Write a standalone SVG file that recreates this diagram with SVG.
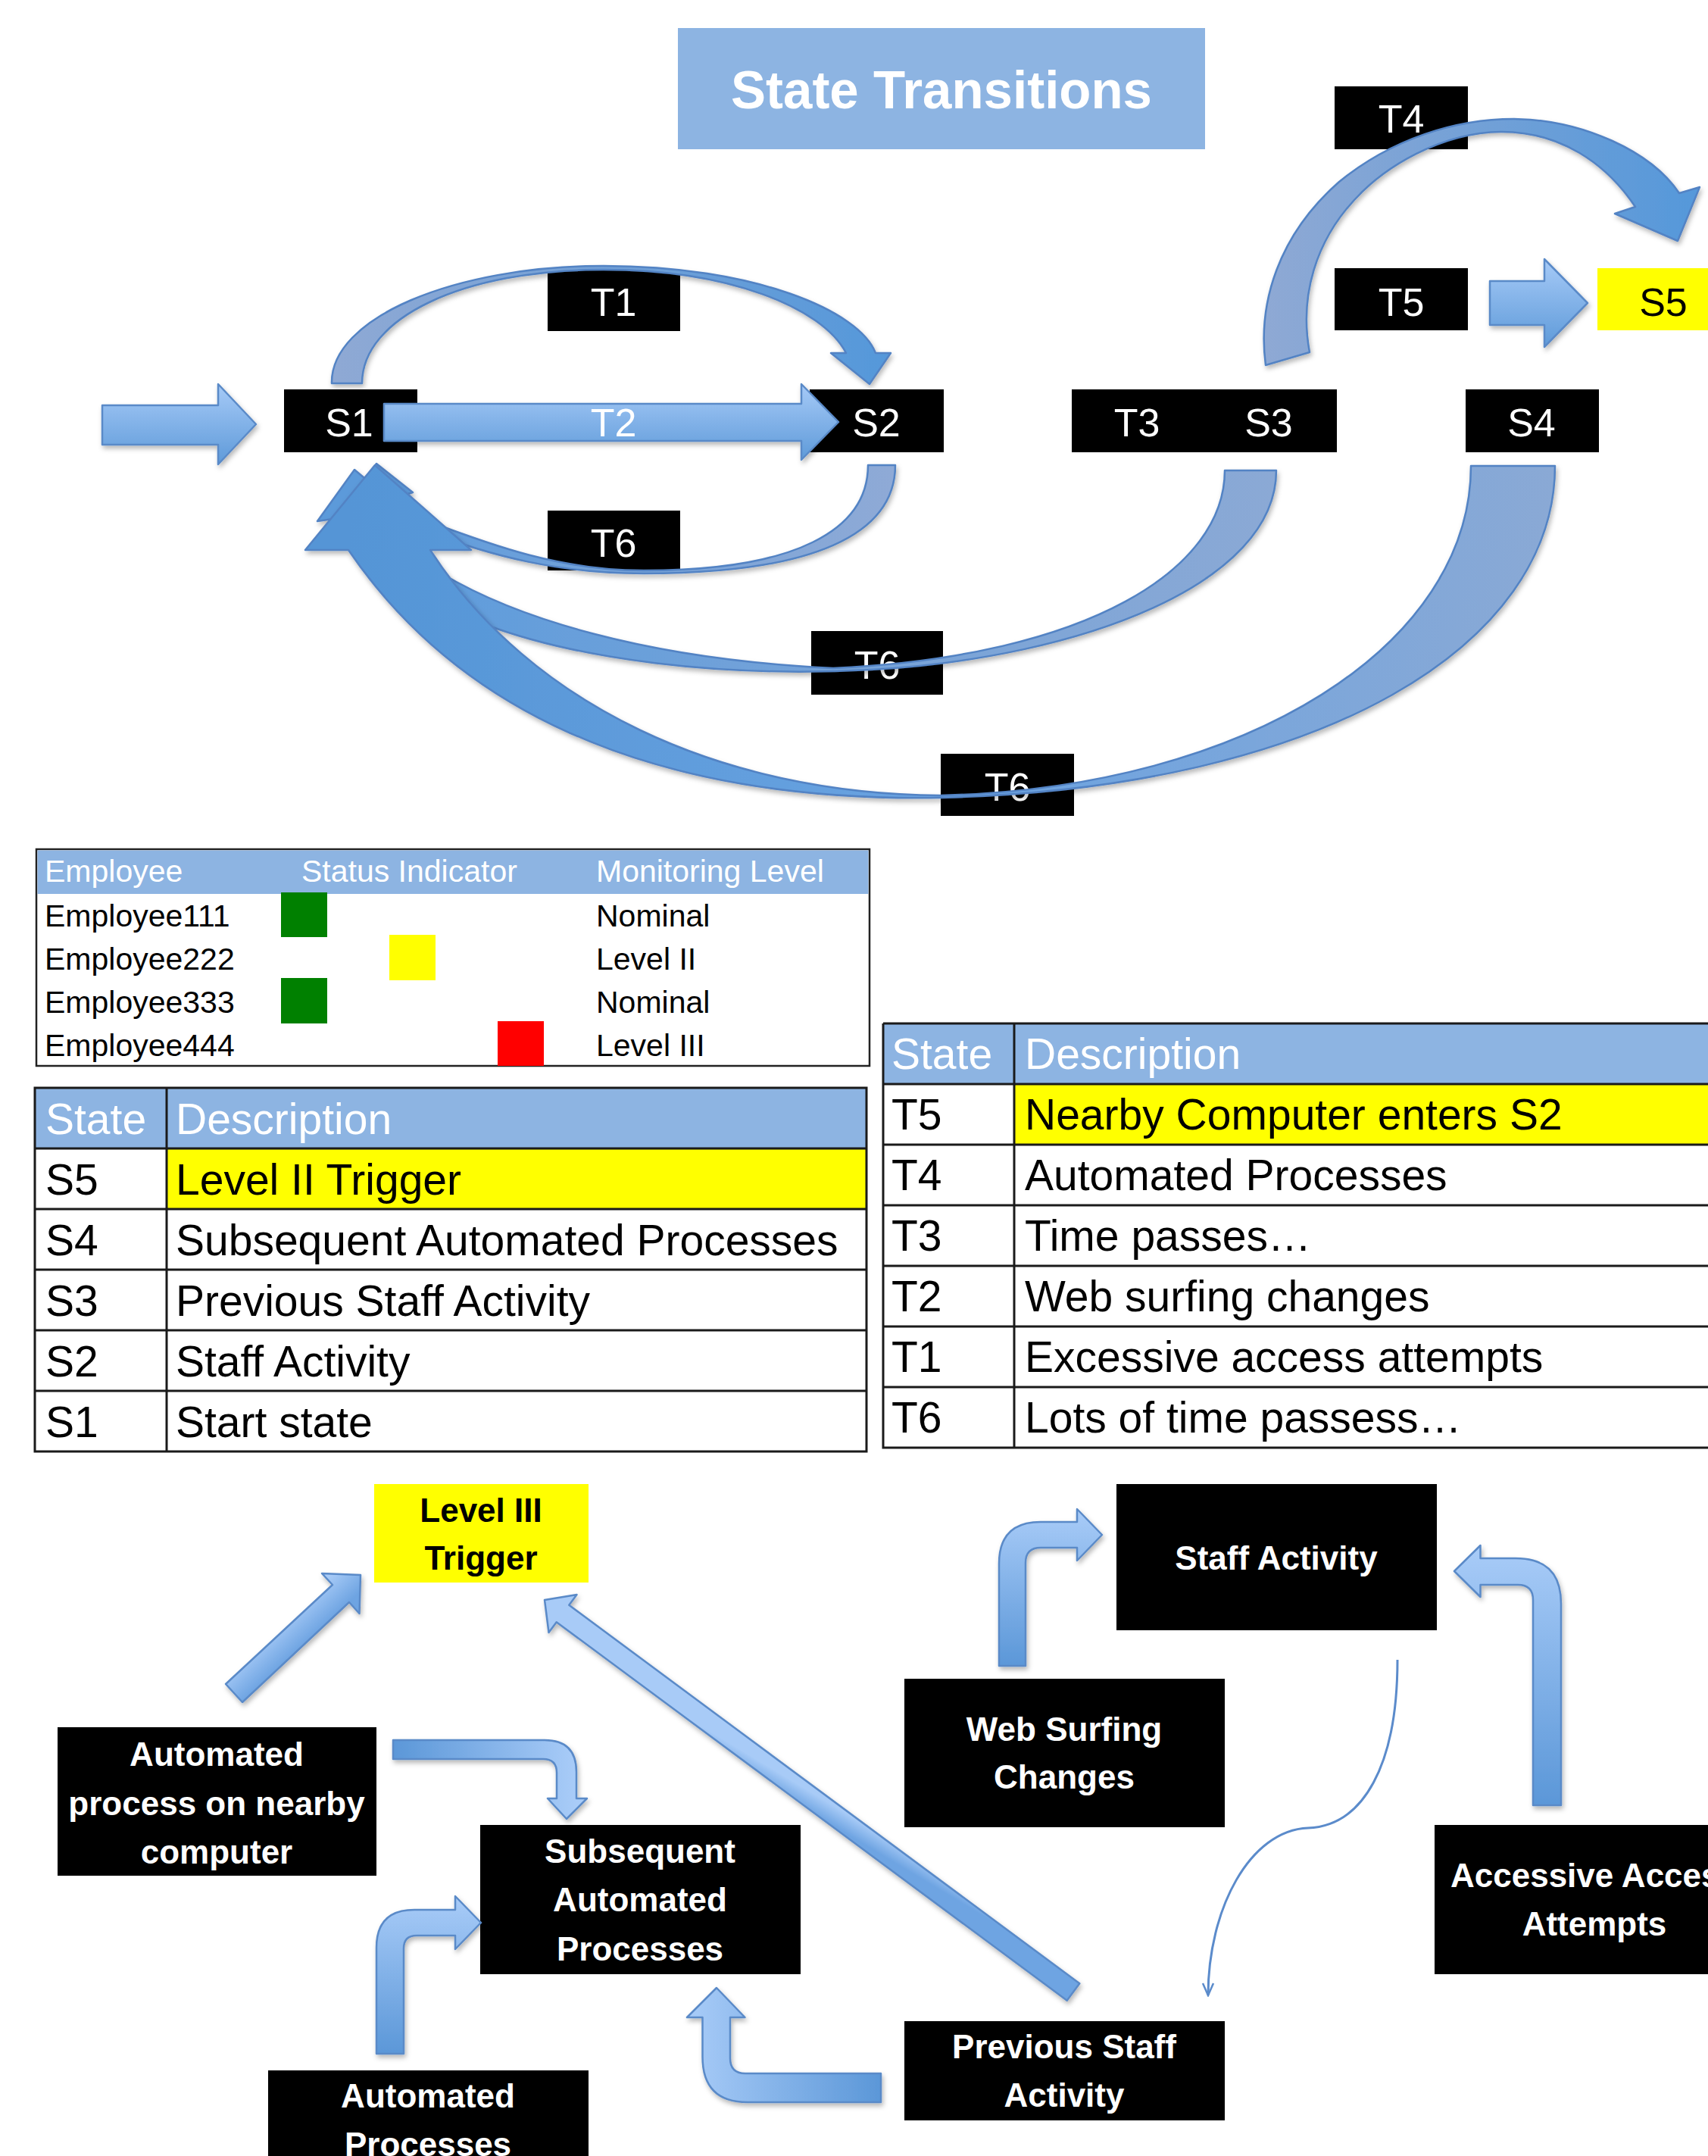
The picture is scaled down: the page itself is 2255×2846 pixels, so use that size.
<svg xmlns="http://www.w3.org/2000/svg" width="2255" height="2846" viewBox="0 0 2255 2846">
<defs>
<style>
.lbl{font-family:"Liberation Sans",Arial,sans-serif;font-size:52px;fill:#fff;text-anchor:middle}
.nb{font-family:"Liberation Sans",Arial,sans-serif;font-size:44px;font-weight:bold;fill:#fff;text-anchor:middle}
.et{font-family:"Liberation Sans",Arial,sans-serif;font-size:41px;fill:#000}
.tt{font-family:"Liberation Sans",Arial,sans-serif;font-size:57px;fill:#000}
.wh{fill:#fff}
.hd{fill:#8DB4E2}
.grid{stroke:#1a1a1a;stroke-width:3;fill:none}
.blk{stroke:#5A8AC8;stroke-width:2.5;stroke-linejoin:round}
.arc{stroke:#5283C4;stroke-width:2.5;stroke-linejoin:round}
</style>
<linearGradient id="gV" x1="0" y1="0" x2="0" y2="1"><stop offset="0" stop-color="#A6CAF7"/><stop offset="1" stop-color="#5E9AD9"/></linearGradient>
<linearGradient id="gT1" gradientUnits="userSpaceOnUse" x1="438" y1="0" x2="1176" y2="0"><stop offset="0" stop-color="#8FA9D4"/><stop offset="1" stop-color="#5598DA"/></linearGradient>
<linearGradient id="gT4" gradientUnits="userSpaceOnUse" x1="1665" y1="0" x2="2244" y2="0"><stop offset="0" stop-color="#8FA9D4"/><stop offset="1" stop-color="#5598DA"/></linearGradient>
<linearGradient id="gS2" gradientUnits="userSpaceOnUse" x1="1182" y1="0" x2="520" y2="0"><stop offset="0" stop-color="#8FAAD6"/><stop offset="1" stop-color="#5E9CDC"/></linearGradient>
<linearGradient id="gS3" gradientUnits="userSpaceOnUse" x1="1685" y1="0" x2="520" y2="0"><stop offset="0" stop-color="#8BA9D5"/><stop offset="1" stop-color="#5E9CDC"/></linearGradient>
<linearGradient id="gS4" gradientUnits="userSpaceOnUse" x1="2053" y1="0" x2="460" y2="0"><stop offset="0" stop-color="#8AA9D5"/><stop offset="0.5" stop-color="#6AA3E1"/><stop offset="1" stop-color="#5495D6"/></linearGradient>
<linearGradient id="gA" gradientUnits="userSpaceOnUse" x1="370" y1="2140" x2="400" y2="2172"><stop offset="0" stop-color="#A8CBF7"/><stop offset="1" stop-color="#6EA4E2"/></linearGradient>
<linearGradient id="gB" gradientUnits="userSpaceOnUse" x1="1070" y1="2365" x2="1058" y2="2385"><stop offset="0" stop-color="#A8CBF7"/><stop offset="1" stop-color="#6EA4E2"/></linearGradient>
<linearGradient id="gC" gradientUnits="userSpaceOnUse" x1="519" y1="0" x2="761" y2="0"><stop offset="0" stop-color="#5B97D8"/><stop offset="1" stop-color="#A9CCF8"/></linearGradient>
<linearGradient id="gD" gradientUnits="userSpaceOnUse" x1="0" y1="2711" x2="0" y2="2503"><stop offset="0" stop-color="#5B97D8"/><stop offset="1" stop-color="#A9CCF8"/></linearGradient>
<linearGradient id="gE" gradientUnits="userSpaceOnUse" x1="1163" y1="0" x2="907" y2="0"><stop offset="0" stop-color="#5B97D8"/><stop offset="1" stop-color="#A9CCF8"/></linearGradient>
<linearGradient id="gF" gradientUnits="userSpaceOnUse" x1="0" y1="2199" x2="0" y2="1992"><stop offset="0" stop-color="#5B97D8"/><stop offset="1" stop-color="#A9CCF8"/></linearGradient>
<linearGradient id="gG" gradientUnits="userSpaceOnUse" x1="0" y1="2383" x2="0" y2="2040"><stop offset="0" stop-color="#5B97D8"/><stop offset="1" stop-color="#A9CCF8"/></linearGradient>
<filter id="sh" x="-10%" y="-10%" width="120%" height="130%"><feDropShadow dx="2" dy="4" stdDeviation="3" flood-color="#000" flood-opacity="0.28"/></filter>
<marker id="open" viewBox="0 0 20 20" refX="18" refY="10" markerWidth="20" markerHeight="20" markerUnits="userSpaceOnUse" orient="auto"><path d="M2,3 L18,10 L2,17" fill="none" stroke="#5B8BCB" stroke-width="2.5"/></marker>
</defs>
<rect width="2255" height="2846" fill="#fff"/>

<g id="title">
<rect x="895" y="37" width="696" height="160" fill="#8DB4E2"/>
<text x="1243" y="143" font-family="Liberation Sans, Arial, sans-serif" font-size="70" font-weight="bold" fill="#fff" text-anchor="middle" textLength="556" lengthAdjust="spacingAndGlyphs">State Transitions</text>
</g>

<g id="node-S1"><rect class="box" x="375" y="514" width="176" height="83"/><text class="lbl" x="461" y="576">S1</text></g>
<g id="node-S2"><rect class="box" x="1069" y="514" width="177" height="83"/><text class="lbl" x="1157" y="576">S2</text></g>
<g id="node-T3S3"><rect class="box" x="1415" y="514" width="350" height="83"/><text class="lbl" x="1501" y="576">T3</text><text class="lbl" x="1675" y="576">S3</text></g>
<g id="node-S4"><rect class="box" x="1935" y="514" width="176" height="83"/><text class="lbl" x="2022" y="576">S4</text></g>
<g id="node-S5"><rect x="2109" y="354" width="176" height="82" fill="#FFFF00"/><text class="lbl" x="2196" y="417" style="fill:#000">S5</text></g>
<g id="label-T1"><rect class="box" x="723" y="356" width="175" height="81"/><text class="lbl" x="810" y="417">T1</text></g>
<g id="label-T4"><rect class="box" x="1762" y="114" width="176" height="83"/><text class="lbl" x="1850" y="175">T4</text></g>
<g id="label-T5"><rect class="box" x="1762" y="354" width="176" height="82"/><text class="lbl" x="1850" y="417">T5</text></g>
<g id="label-T6a"><rect class="box" x="723" y="674" width="175" height="79"/><text class="lbl" x="810" y="735">T6</text></g>
<g id="label-T6b"><rect class="box" x="1071" y="833" width="174" height="84"/><text class="lbl" x="1158" y="896">T6</text></g>
<g id="label-T6c"><rect class="box" x="1242" y="995" width="176" height="82"/><text class="lbl" x="1330" y="1057">T6</text></g>

<g id="connectors-top">
<path filter="url(#sh)" class="blk" fill="url(#gV)" d="M135,535 L288,535 L288,507 L338,560 L288,613 L288,587 L135,587 Z"/>
<path filter="url(#sh)" class="blk" fill="url(#gV)" d="M507,533 L1058,533 L1058,507 L1107,557 L1058,607 L1058,582 L507,582 Z"/>
<text class="lbl" x="810" y="576">T2</text>
<path filter="url(#sh)" class="blk" fill="url(#gV)" d="M1967,371 L2039,371 L2039,342 L2096,400 L2039,458 L2039,429 L1967,429 Z"/>
<path filter="url(#sh)" class="arc" fill="url(#gT1)" d="M438,506 C436,420 599,351 797,351 C995,351 1135,410 1156,466 L1176,466 L1148,507 L1097,466 L1117,466 C1085,405 960,356 797,356 C610,356 478,420 478,506 Z"/>
<path filter="url(#sh)" class="arc" fill="url(#gT4)" d="M1671,482 C1660,400 1688,310 1768,240 C1838,183 1922,157 1999,157 C2090,158 2180,200 2217,255 L2244,247 L2215,318 L2132,282 L2159,273 C2120,215 2060,174 1982,174 C1902,175 1828,220 1788,264 C1738,318 1715,390 1729,465 Z"/>
<path filter="url(#sh)" class="arc" fill="#5C9ADA" d="M497,612 L545,650 L450,680 Z"/>
<path filter="url(#sh)" class="arc" fill="#5C9ADA" d="M468,620 L419,688 L530,672 Z"/>
<path filter="url(#sh)" class="arc" fill="url(#gS2)" d="M1146,614 L1182,614 C1182,705 1075,757 850,757 C740,757 650,735 560,700 L565,688 C650,720 740,753 850,753 C1050,753 1146,700 1146,614 Z"/>
<path filter="url(#sh)" class="arc" fill="url(#gS3)" d="M1617,621 L1685,621 C1685,770 1430,868 1150,884 C950,895 760,870 637,823 L505,715 L583,757 C680,815 850,870 1100,882 C1440,866 1617,750 1617,621 Z"/>
<path filter="url(#sh)" class="arc" fill="url(#gS4)" d="M2053,615 C2053,850 1750,1040 1242,1053 C950,1058 640,990 460,726 L403,726 L495,614 L622,726 L568,726 C700,930 950,1048 1242,1050 C1650,1040 1942,850 1942,615 Z"/>
</g>

<g id="employee-table">
<rect x="48" y="1121" width="1100" height="286" fill="#fff" stroke="#222" stroke-width="2.5"/>
<rect x="49.5" y="1122.5" width="1097" height="57.5" class="hd"/>
<text class="et wh" x="59" y="1164">Employee</text>
<text class="et wh" x="398" y="1164">Status Indicator</text>
<text class="et wh" x="787" y="1164">Monitoring Level</text>
<text class="et" x="59" y="1223">Employee111</text>
<text class="et" x="59" y="1280">Employee222</text>
<text class="et" x="59" y="1337">Employee333</text>
<text class="et" x="59" y="1394">Employee444</text>
<text class="et" x="787" y="1223">Nominal</text>
<text class="et" x="787" y="1280">Level II</text>
<text class="et" x="787" y="1337">Nominal</text>
<text class="et" x="787" y="1394">Level III</text>
<rect x="371" y="1178" width="61" height="59" fill="#008000"/>
<rect x="514" y="1234" width="61" height="60" fill="#FFFF00"/>
<rect x="371" y="1291" width="61" height="60" fill="#008000"/>
<rect x="657" y="1348" width="61" height="59" fill="#FF0000"/>
</g>

<g id="state-table">
<rect x="46" y="1436" width="1098" height="80" class="hd"/>
<rect x="220" y="1516" width="924" height="80" fill="#FFFF00"/>
<path class="grid" d="M46,1436 H1144 V1916 H46 Z M220,1436 V1916 M46,1516 H1144 M46,1596 H1144 M46,1676 H1144 M46,1756 H1144 M46,1836 H1144"/>
<text class="tt wh" x="60" y="1497">State</text><text class="tt wh" x="232" y="1497">Description</text>
<text class="tt" x="60" y="1577">S5</text><text class="tt" x="232" y="1577">Level II Trigger</text>
<text class="tt" x="60" y="1657">S4</text><text class="tt" x="232" y="1657">Subsequent Automated Processes</text>
<text class="tt" x="60" y="1737">S3</text><text class="tt" x="232" y="1737">Previous Staff Activity</text>
<text class="tt" x="60" y="1817">S2</text><text class="tt" x="232" y="1817">Staff Activity</text>
<text class="tt" x="60" y="1897">S1</text><text class="tt" x="232" y="1897">Start state</text>
</g>

<g id="transition-table">
<rect x="1166" y="1351" width="1134" height="80" class="hd"/>
<rect x="1339" y="1431" width="961" height="80" fill="#FFFF00"/>
<path class="grid" d="M1166,1351 H2300 M1166,1351 V1911 H2300 M1339,1351 V1911 M1166,1431 H2300 M1166,1511 H2300 M1166,1591 H2300 M1166,1671 H2300 M1166,1751 H2300 M1166,1831 H2300"/>
<text class="tt wh" x="1177" y="1411">State</text><text class="tt wh" x="1353" y="1411">Description</text>
<text class="tt" x="1177" y="1491">T5</text><text class="tt" x="1353" y="1491">Nearby Computer enters S2</text>
<text class="tt" x="1177" y="1571">T4</text><text class="tt" x="1353" y="1571">Automated Processes</text>
<text class="tt" x="1177" y="1651">T3</text><text class="tt" x="1353" y="1651">Time passes…</text>
<text class="tt" x="1177" y="1731">T2</text><text class="tt" x="1353" y="1731">Web surfing changes</text>
<text class="tt" x="1177" y="1811">T1</text><text class="tt" x="1353" y="1811">Excessive access attempts</text>
<text class="tt" x="1177" y="1891">T6</text><text class="tt" x="1353" y="1891">Lots of time passess…</text>
</g>

<g id="node-level3">
<rect x="494" y="1959" width="283" height="130" fill="#FFFF00"/>
<text class="nb" x="635" y="2009" style="fill:#000">Level III</text>
<text class="nb" x="635" y="2072" style="fill:#000">Trigger</text>
</g>
<g id="node-auto-nearby">
<rect class="box" x="76" y="2280" width="421" height="196"/>
<text class="nb" x="286" y="2331">Automated</text>
<text class="nb" x="286" y="2396">process on nearby</text>
<text class="nb" x="286" y="2460">computer</text>
</g>
<g id="node-subsequent">
<rect class="box" x="634" y="2409" width="423" height="197"/>
<text class="nb" x="845" y="2459">Subsequent</text>
<text class="nb" x="845" y="2523">Automated</text>
<text class="nb" x="845" y="2588">Processes</text>
</g>
<g id="node-auto-processes">
<rect class="box" x="354" y="2733" width="423" height="150"/>
<text class="nb" x="565" y="2782">Automated</text>
<text class="nb" x="565" y="2846">Processes</text>
</g>
<g id="node-staff">
<rect class="box" x="1474" y="1959" width="423" height="193"/>
<text class="nb" x="1685" y="2072">Staff Activity</text>
</g>
<g id="node-web">
<rect class="box" x="1194" y="2216" width="423" height="196"/>
<text class="nb" x="1405" y="2298">Web Surfing</text>
<text class="nb" x="1405" y="2361">Changes</text>
</g>
<g id="node-access">
<rect class="box" x="1894" y="2409" width="422" height="197"/>
<text class="nb" x="2105" y="2491">Accessive Access</text>
<text class="nb" x="2105" y="2555">Attempts</text>
</g>
<g id="node-previous">
<rect class="box" x="1194" y="2668" width="423" height="131"/>
<text class="nb" x="1405" y="2717">Previous Staff</text>
<text class="nb" x="1405" y="2781">Activity</text>
</g>

<g id="connectors-bottom">
<path filter="url(#sh)" class="blk" fill="url(#gA)" d="M298,2223 L439,2092 L425,2077 L476,2079 L474.5,2130 L461,2115 L320,2247 Z"/>
<path filter="url(#sh)" class="blk" fill="url(#gB)" d="M719,2112 L761.5,2105 L751.3,2118.8 L1425.3,2618.3 L1408.7,2640.7 L734.7,2141.2 L724.5,2155 Z"/>
<path filter="url(#sh)" class="blk" fill="url(#gC)" d="M519,2297 L719,2297 Q761,2297 761,2339 L761,2374 L775,2374 L748,2401 L723,2374 L735,2374 L735,2340 Q735,2322 717,2322 L519,2322 Z"/>
<path filter="url(#sh)" class="blk" fill="url(#gD)" d="M497,2711 L497,2571 Q497,2521 547,2521 L601,2521 L601,2503 L635,2538 L601,2573 L601,2555 L550,2555 Q533,2555 533,2572 L533,2711 Z"/>
<path filter="url(#sh)" class="blk" fill="url(#gE)" d="M1163,2737 L984,2737 Q964,2737 964,2717 L964,2663 L983.5,2663 L946,2624 L907,2663 L927.5,2663 L927.5,2715 Q927.5,2775 987,2775 L1163,2775 Z"/>
<path filter="url(#sh)" class="blk" fill="url(#gF)" d="M1319,2199 L1319,2064 Q1319,2009 1374,2009 L1422,2009 L1422,1992 L1455,2026 L1422,2060 L1422,2043 L1374,2043 Q1354,2043 1354,2063 L1354,2199 Z"/>
<path filter="url(#sh)" class="blk" fill="url(#gG)" d="M2061,2383 L2061,2117 Q2061,2057 2001,2057 L1954.5,2057 L1954.5,2040 L1920,2074 L1954.5,2108 L1954.5,2092 L2004,2092 Q2024,2092 2024,2112 L2024,2383 Z"/>
<path d="M1845,2191 C1845,2330 1800,2410 1727,2413 C1650,2416 1595,2520 1595,2634" fill="none" stroke="#5B8BCB" stroke-width="3" marker-end="url(#open)"/>
</g>
</svg>
